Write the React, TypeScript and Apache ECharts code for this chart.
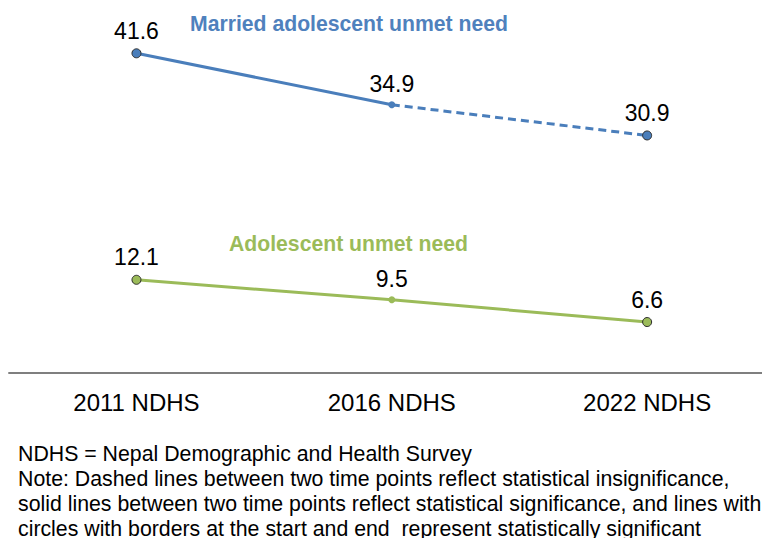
import React, { useEffect, useRef } from "react";
import * as echarts from "echarts";

const categories = ["2011 NDHS", "2016 NDHS", "2022 NDHS"];
const marriedSolid: (number | null)[] = [41.6, 34.9, null];
const marriedDashed: (number | null)[] = [null, 34.9, 30.9];
const adolescent: number[] = [12.1, 9.5, 6.6];
const seriesNames = ["Married adolescent unmet need", "Adolescent unmet need"];
const notes = [
  "NDHS = Nepal Demographic and Health Survey",
  "Note: Dashed lines between two time points reflect statistical insignificance,",
  "solid lines between two time points reflect statistical significance, and lines with",
  "circles with borders at the start and end  represent statistically significant",
];

const BLUE = "#4A7EBB";
const BLUE_TEXT = "#4F81BD";
const GREEN = "#9BBB59";
const FONT = "'Liberation Sans', Arial, sans-serif";

const endSym = (v: number | null, color: string) =>
  v === null
    ? null
    : {
        value: v,
        symbolSize: 9,
        itemStyle: { color, borderColor: "#2b2b2b", borderWidth: 1 },
      };
const midSym = (v: number | null, color: string) =>
  v === null
    ? null
    : { value: v, symbolSize: 7, itemStyle: { color, borderWidth: 0 } };

export default function App() {
  const ref = useRef<HTMLDivElement>(null);
  useEffect(() => {
    if (!ref.current) return;
    const chart = echarts.init(ref.current, null, { renderer: "svg" });
    const label = {
      show: true,
      position: "top" as const,
      distance: 6,
      color: "#000",
      fontSize: 23,
      fontFamily: FONT,
    };
    chart.setOption({
      animation: false,
      backgroundColor: "#fff",
      grid: {
        left: 8.8,
        width: 766,
        top: 27.2,
        bottom: 165.3,
        outerBoundsMode: "none",
        containLabel: false,
      },
      xAxis: {
        type: "category",
        data: categories,
        boundaryGap: true,
        axisLine: { lineStyle: { color: "#555", width: 1.5 } },
        axisTick: { show: false },
        axisLabel: { color: "#000", fontSize: 24, fontFamily: FONT, margin: 18 },
      },
      yAxis: {
        type: "value",
        min: 0,
        max: 45,
        show: false,
        splitLine: { show: false },
      },
      series: [
        {
          name: seriesNames[0] + " (dashed)",
          type: "line",
          z: 2,
          data: marriedDashed.map((v, i) =>
            i === 1
              ? { value: v, symbol: "none", label: { show: false } }
              : endSym(v, BLUE)
          ),
          lineStyle: { color: BLUE, width: 3, type: [8, 5] },
          symbol: "circle",
          label,
        },
        {
          name: seriesNames[0],
          type: "line",
          z: 3,
          data: marriedSolid.map((v, i) => (i === 1 ? midSym(v, BLUE) : endSym(v, BLUE))),
          lineStyle: { color: BLUE, width: 3 },
          symbol: "circle",
          label,
        },
        {
          name: seriesNames[1],
          type: "line",
          z: 3,
          data: adolescent.map((v, i) => (i === 1 ? midSym(v, GREEN) : endSym(v, GREEN))),
          lineStyle: { color: GREEN, width: 3 },
          symbol: "circle",
          label,
        },
      ],
      graphic: [
        {
          type: "text",
          left: 190,
          top: 13,
          style: {
            text: seriesNames[0],
            fill: BLUE_TEXT,
            font: `bold 21.2px ${FONT}`,
          },
        },
        {
          type: "text",
          left: 229,
          top: 233,
          style: {
            text: seriesNames[1],
            fill: GREEN,
            font: `bold 21.2px ${FONT}`,
          },
        },
        ...notes.map((t, i) => ({
          type: "text",
          left: 18,
          top: 443 + i * 25,
          style: { text: t, fill: "#000", font: `21.3px ${FONT}` },
        })),
      ],
    });
    return () => chart.dispose();
  }, []);
  return (
    <div
      ref={ref}
      style={{ position: "absolute", left: 0, top: 0, width: 762, height: 538 }}
    />
  );
}
